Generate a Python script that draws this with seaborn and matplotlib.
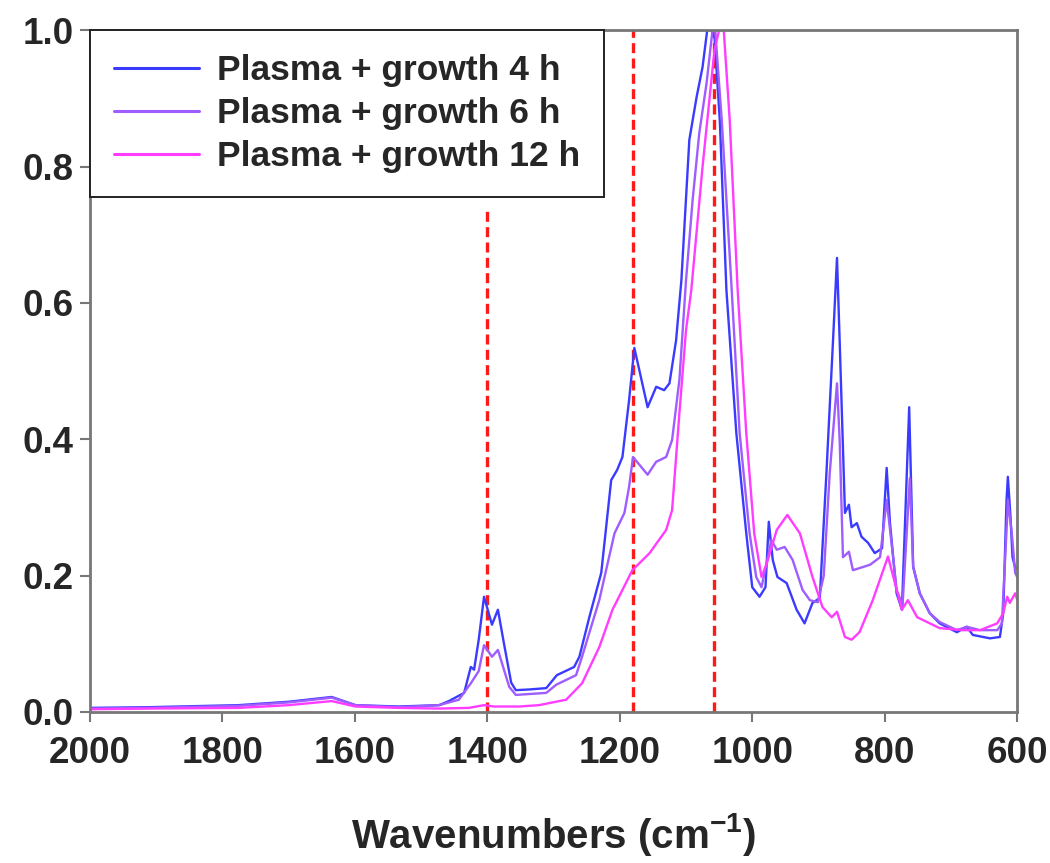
import pandas as pd
import seaborn as sns
import matplotlib
matplotlib.use("Agg")
import matplotlib.pyplot as plt

sns.set_style("white")
plt.rcParams["font.family"] = ["Liberation Sans", "DejaVu Sans"]
plt.rcParams["font.weight"] = "bold"
plt.rcParams["mathtext.fontset"] = "custom"
plt.rcParams["mathtext.rm"] = "Liberation Sans"
plt.rcParams["mathtext.bf"] = "Liberation Sans:bold"

# ---- data (wavenumber in cm-1, normalised absorbance)
wn_4h = [2000, 1912, 1776, 1700, 1635, 1599, 1534, 1473, 1458, 1435, 1425, 1420,
         1413, 1405, 1393, 1384, 1375, 1364, 1357, 1337, 1311, 1295, 1269, 1261,
         1246, 1228, 1213, 1204, 1196, 1186, 1178, 1158, 1145, 1133, 1125, 1115,
         1107, 1095, 1084, 1075, 1068, 1062, 1057, 1049, 1039, 1024, 1009, 1000,
         989, 980, 975, 969, 962, 948, 933, 921, 909, 898, 888, 878, 872, 868,
         860, 854, 850, 842, 835, 825, 815, 804, 797, 792, 782, 774, 763, 757,
         747, 732, 717, 691, 676, 667, 641, 626, 621, 616, 614, 610, 607, 603, 600]
abs_4h = [0.006, 0.007, 0.010, 0.015, 0.022, 0.010, 0.008, 0.010, 0.016, 0.028, 0.066, 0.062,
          0.106, 0.169, 0.128, 0.150, 0.101, 0.043, 0.032, 0.033, 0.035, 0.054, 0.066, 0.081,
          0.139, 0.204, 0.340, 0.355, 0.374, 0.457, 0.534, 0.447, 0.477, 0.472, 0.482, 0.545,
          0.633, 0.839, 0.902, 0.946, 1.000, 1.000, 0.990, 0.868, 0.619, 0.409, 0.262, 0.183,
          0.169, 0.183, 0.279, 0.223, 0.198, 0.189, 0.150, 0.130, 0.160, 0.167, 0.350, 0.545, 0.666, 0.545,
          0.292, 0.304, 0.271, 0.277, 0.257, 0.248, 0.233, 0.240, 0.358, 0.277, 0.174, 0.150, 0.447, 0.213,
          0.174, 0.145, 0.130, 0.117, 0.125, 0.113, 0.108, 0.110, 0.145, 0.311, 0.345, 0.286, 0.227, 0.212, 0.210]

wn_6h = [2000, 1912, 1776, 1700, 1635, 1599, 1534, 1473, 1443, 1425, 1413, 1405,
         1393, 1384, 1367, 1357, 1311, 1296, 1266, 1257, 1231, 1208, 1193, 1186,
         1180, 1158, 1145, 1130, 1121, 1110, 1100, 1090, 1080, 1069, 1060, 1056,
         1046, 1031, 1019, 1004, 994, 986, 978, 971, 963, 951, 939, 924, 913, 901,
         892, 883, 872, 868, 863, 854, 848, 838, 822, 807, 797, 789, 782, 773,
         762, 757, 747, 732, 717, 691, 676, 656, 630, 623, 615, 614, 608, 603, 600]
abs_6h = [0.005, 0.006, 0.009, 0.014, 0.021, 0.010, 0.007, 0.010, 0.018, 0.042, 0.060, 0.098,
          0.081, 0.091, 0.037, 0.025, 0.028, 0.040, 0.054, 0.081, 0.164, 0.262, 0.292, 0.330,
          0.374, 0.348, 0.367, 0.374, 0.399, 0.487, 0.633, 0.751, 0.849, 0.922, 1.000, 1.000,
          0.868, 0.619, 0.409, 0.262, 0.198, 0.183, 0.220, 0.252, 0.238, 0.242, 0.223, 0.179, 0.164, 0.161,
          0.200, 0.350, 0.482, 0.399, 0.227, 0.235, 0.208, 0.211, 0.216, 0.227, 0.311, 0.242, 0.179, 0.157,
          0.343, 0.213, 0.174, 0.145, 0.132, 0.120, 0.125, 0.120, 0.120, 0.130, 0.286, 0.311, 0.262, 0.204, 0.198]

wn_12h = [2000, 1912, 1776, 1700, 1635, 1599, 1534, 1473, 1428, 1405, 1390, 1352,
          1322, 1281, 1257, 1231, 1211, 1181, 1155, 1130, 1121, 1110, 1100, 1092,
          1075, 1057, 1050, 1043, 1034, 1022, 1009, 997, 986, 978, 963, 947, 928,
          909, 894, 880, 872, 860, 850, 838, 818, 795, 774, 765, 751, 717, 682,
          656, 630, 621, 615, 611, 603, 600]
abs_12h = [0.004, 0.005, 0.006, 0.010, 0.016, 0.008, 0.006, 0.005, 0.006, 0.010, 0.008, 0.008,
           0.010, 0.018, 0.042, 0.095, 0.150, 0.208, 0.233, 0.267, 0.296, 0.438, 0.560, 0.619,
           0.800, 0.971, 1.000, 1.000, 0.868, 0.619, 0.409, 0.262, 0.198, 0.218, 0.267, 0.289, 0.262,
           0.198, 0.154, 0.139, 0.147, 0.110, 0.106, 0.117, 0.164, 0.228, 0.150, 0.164, 0.139, 0.123, 0.120,
           0.120, 0.130, 0.145, 0.169, 0.160, 0.174, 0.165]

labels = ["Plasma + growth 4 h", "Plasma + growth 6 h", "Plasma + growth 12 h"]
colors = ["#3b3bff", "#9f5cff", "#ff3cff"]

# marker lines: (wavenumber, top of line)
marker_wn = [1400, 1180, 1057]
marker_top = [0.736, 1.0, 1.0]

df = pd.concat([
    pd.DataFrame({"wn": wn_4h, "absorbance": abs_4h, "sample": labels[0]}),
    pd.DataFrame({"wn": wn_6h, "absorbance": abs_6h, "sample": labels[1]}),
    pd.DataFrame({"wn": wn_12h, "absorbance": abs_12h, "sample": labels[2]}),
], ignore_index=True)

fig = plt.figure(figsize=(10.5, 8.63), dpi=100)
ax = fig.add_axes([0.0857, 0.175, 0.883, 0.79])

sns.lineplot(data=df, x="wn", y="absorbance", hue="sample", palette=colors,
             hue_order=labels, estimator=None, sort=False, linewidth=1.7, ax=ax)

for w, top in zip(marker_wn, marker_top):
    ax.plot([w, w], [0, top], color="#ff1a1a", lw=2.4, ls=(0, (3, 1.6)), zorder=1)

ax.set_xlim(2000, 600)
ax.set_ylim(0, 1.0)
ax.set_xticks([2000, 1800, 1600, 1400, 1200, 1000, 800, 600])
ax.set_yticks([0.0, 0.2, 0.4, 0.6, 0.8, 1.0])
ax.set_yticklabels(["0.0", "0.2", "0.4", "0.6", "0.8", "1.0"])
ax.tick_params(axis="both", direction="out", length=7, width=1.5, color="#777777",
               labelsize=26.5, pad=5, bottom=True, left=True)
ax.tick_params(axis="x", pad=10)
for lab in ax.get_xticklabels() + ax.get_yticklabels():
    lab.set_fontweight("bold")

for side in ["left", "right", "top", "bottom"]:
    ax.spines[side].set_visible(True)
    ax.spines[side].set_color("#777777")
    ax.spines[side].set_linewidth(2)

ax.set_xlabel(r"Wavenumbers (cm$^{\mathbf{-1}}$)", fontsize=29, fontweight="bold", labelpad=29)
ax.set_ylabel("")

leg = ax.legend(loc="upper left", bbox_to_anchor=(0, 1), borderaxespad=0, frameon=True,
                fancybox=False, framealpha=1, edgecolor="#222222",
                prop={"weight": "bold", "size": 25.5}, handlelength=2.4, handletextpad=0.5,
                labelspacing=0.28, borderpad=0.68)
leg.get_frame().set_linewidth(1.4)
for h in leg.get_lines():
    h.set_linewidth(2.2)

fig.savefig("out.png", dpi=100, facecolor="white")
